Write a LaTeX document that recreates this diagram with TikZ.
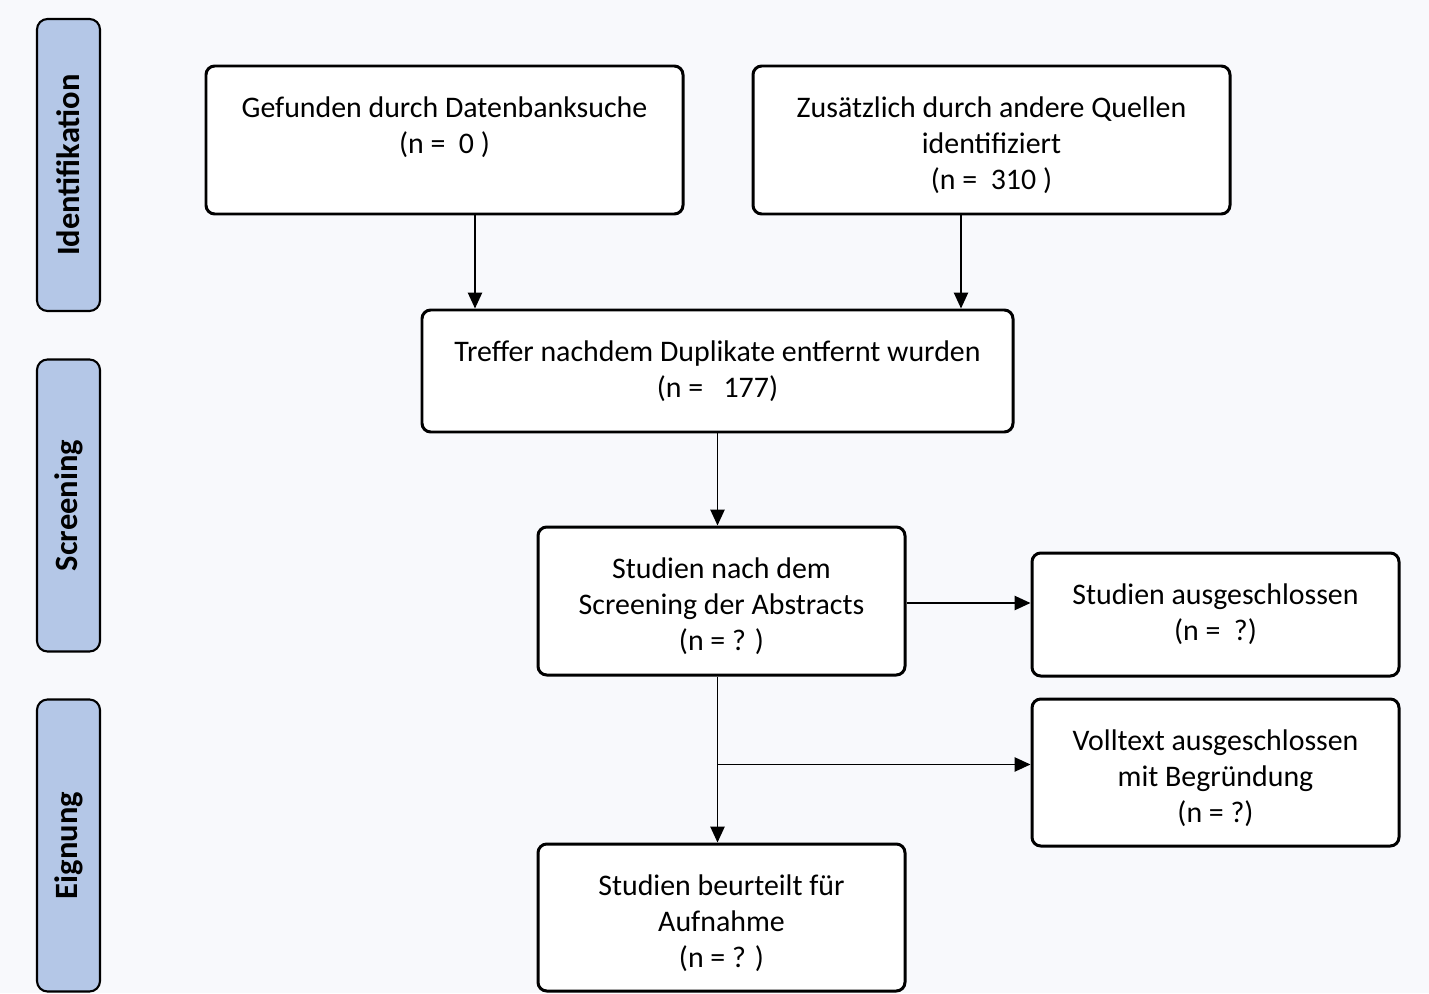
\documentclass[tikz,border=0pt]{standalone}
\usepackage{fontspec}
\setmainfont{Carlito}
\usepackage{tikz}
\usetikzlibrary{arrows.meta,positioning,calc}
\definecolor{bgcol}{HTML}{F8F9FC}
\definecolor{phasecol}{HTML}{B4C7E7}

\begin{document}
\begin{tikzpicture}[>={Triangle[length=9pt,width=8pt]}, thick]
        \tikzset{
            box/.style 2 args={draw=black, fill=white, rectangle, minimum width=#1, minimum height=#2, inner sep=0pt, rounded corners=5pt, font=\fontsize{17}{20.5}\selectfont, line width=1.7pt,
                execute at begin node={\begin{minipage}[t][#2][t]{#1}\centering\vspace*{15pt}\strut},
                execute at end node={\end{minipage}}},
            phase/.style={draw=black, fill=phasecol, rectangle, minimum width=5.84cm, minimum height=1.26cm, rounded corners=6pt, font=\fontsize{18.5}{22}\selectfont\bfseries, line width=1.2pt, rotate=90},
            line/.style={draw, ->, line width=1.1pt}
        }

        % Background and bounding box
        \fill[bgcol] (0,0) rectangle (28.58,-19.86);
        \useasboundingbox (0,0) rectangle (28.58,-19.86);

        % Phases on the left
        \node[phase] (ident) at (1.37, -3.3) {Identifikation};
        \node[phase] (screen) at (1.37, -10.11) {Screening};
        \node[phase] (elig) at (1.37, -16.91) {Eignung};

        % Identification boxes
        \node[box={9.54cm}{2.96cm}] (db) at (8.89, -2.8) {Gefunden durch Datenbanksuche\\(n =~~0 )};
        \node[box={9.54cm}{2.96cm}] (other) at (19.83, -2.8) {Zusätzlich durch andere Quellen\\identifiziert\\(n =~~310 )};

        % Screening boxes
        \node[box={11.82cm}{2.44cm}] (dedup) at (14.35, -7.42) {Treffer nachdem Duplikate entfernt wurden\\(n =~~~177)};
        \node[box={7.34cm}{2.96cm}] (abstr) at (14.43, -12.02) {Studien nach dem\\Screening der Abstracts\\(n = ? )};
        \node[box={7.34cm}{2.46cm}] (excl) at (24.31, -12.29) {Studien ausgeschlossen\\(n =~~?)};

        % Eligibility boxes
        \node[box={7.34cm}{2.94cm}] (fulltext) at (24.31, -15.45) {Volltext ausgeschlossen\\mit Begründung\\(n = ?)};
        \node[box={7.34cm}{2.94cm}] (incl) at (14.43, -18.35) {Studien beurteilt für\\Aufnahme\\(n = ? )};

        % Connections
        \path[line] ([xshift=0.61cm]db.south) -- ([xshift=0.61cm]db.south |- dedup.north);
        \path[line] ([xshift=-0.61cm]other.south) -- ([xshift=-0.61cm]other.south |- dedup.north);
        \path[line] (dedup.south) -- (dedup.south |- abstr.north);
        \path[line] ([yshift=-0.04cm]abstr.east) -- ([yshift=-0.04cm]abstr.east -| excl.west);
        \path[line] (abstr.south -| dedup.south) -- (incl.north -| dedup.south);
        \coordinate (split) at ($(abstr.south -| dedup.south)!0.53!(incl.north -| dedup.south)$);
        \path[line] (split) -- (split -| fulltext.west);

    \end{tikzpicture}
\end{document}
